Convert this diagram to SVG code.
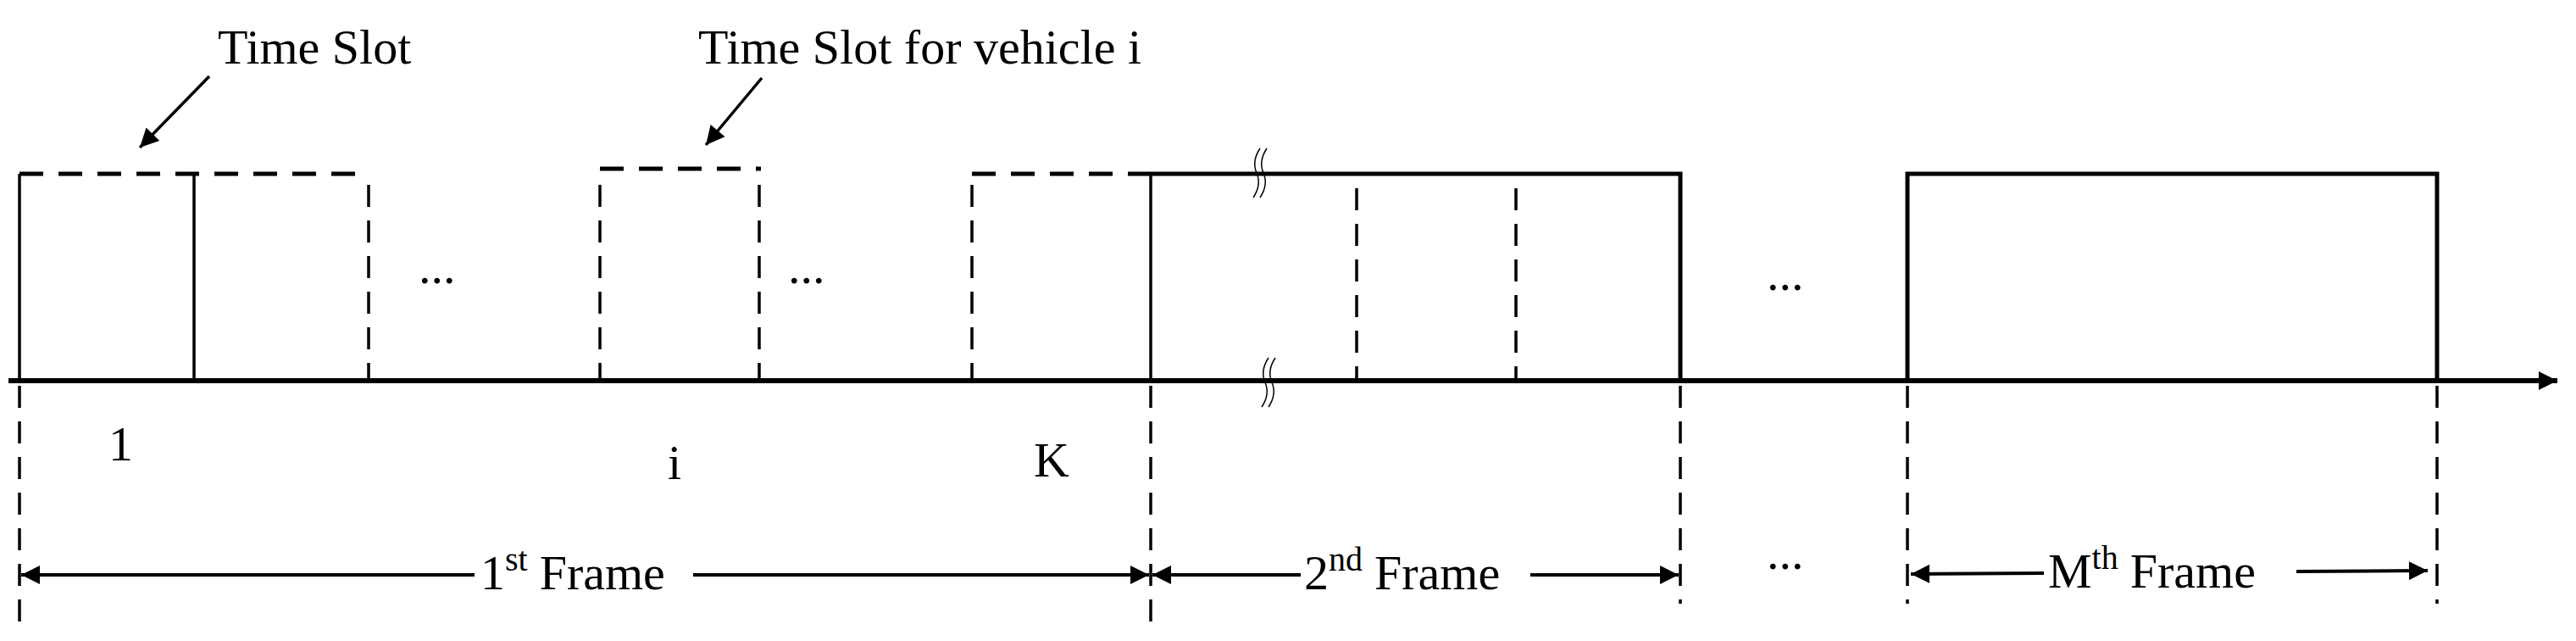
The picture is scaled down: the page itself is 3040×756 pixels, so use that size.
<svg xmlns="http://www.w3.org/2000/svg" width="3040" height="756" viewBox="0 0 3040 756">
<style>
.s{stroke:#000;stroke-width:3.5;fill:none}
.d{stroke:#000;stroke-width:3.5;fill:none;stroke-dasharray:26 16}
.dt{stroke:#000;stroke-width:5;fill:none;stroke-dasharray:28 18}
.t{font-family:"Liberation Serif","Times New Roman",serif;font-size:58px;fill:#000}
.br{stroke:#000;stroke-width:1.5;fill:none}
</style>
<defs>
<marker id="ah" markerWidth="10" markerHeight="10" refX="9" refY="5" orient="auto-start-reverse" markerUnits="userSpaceOnUse" viewBox="0 0 10 10"><path d="M0,0 L10,5 L0,10 z"/></marker>
<marker id="a" viewBox="0 0 10 10" refX="10" refY="5" markerWidth="26" markerHeight="22" orient="auto-start-reverse" markerUnits="userSpaceOnUse"><path d="M0,0 L10,5 L0,10 z" fill="#000"/></marker>
</defs>
<g id="frame1">
<path class="s" d="M23,449 V205 M229,205 V449 M1358,205 V449"/>
<path class="dt" d="M23,205 H435 M1147,205 H1358"/>
<path class="d" d="M435,218 V449 M708,218 V449 M896,218 V449 M1147,218 V449"/>
<path class="dt" d="M708,199 H898"/>
</g>
<g id="frame2">
<path d="M1358,205 H1983 V449" class="s" style="stroke-width:5"/>
<path class="d" d="M1601,222 V449 M1789,222 V449"/>
</g>
<g id="frameM">
<path class="s" d="M2251,449 V205 H2876 V449" style="stroke-width:5"/>
</g>
<g id="breaks">
<path class="br" d="M1487,175 q-10,15 -4,29 q6,14 -4,29 M1495,175 q-10,15 -4,29 q6,14 -4,29"/>
<path class="br" d="M1497,422 q-10,15 -4,29 q6,14 -4,29 M1505,422 q-10,15 -4,29 q6,14 -4,29"/>
</g>
<g id="connectors">
<line x1="10" y1="449" x2="3018" y2="449" stroke="#000" stroke-width="6" marker-end="url(#a)"/>
<line x1="247" y1="90" x2="165" y2="174" class="s" marker-end="url(#a)"/>
<line x1="899" y1="92" x2="833" y2="171" class="s" marker-end="url(#a)"/>
<path class="d" d="M23,455 V735 M1358,455 V735 M1983,455 V712 M2251,455 V712 M2876,455 V712"/>
<line x1="560" y1="678" x2="25" y2="678" stroke="#000" stroke-width="4" marker-end="url(#a)"/>
<line x1="818" y1="678" x2="1356" y2="678" stroke="#000" stroke-width="4" marker-end="url(#a)"/>
<line x1="1535" y1="678" x2="1360" y2="678" stroke="#000" stroke-width="4" marker-end="url(#a)"/>
<line x1="1806" y1="678" x2="1981" y2="678" stroke="#000" stroke-width="4" marker-end="url(#a)"/>
<line x1="2412" y1="676" x2="2255" y2="677" stroke="#000" stroke-width="4" marker-end="url(#a)"/>
<line x1="2710" y1="674" x2="2865" y2="673" stroke="#000" stroke-width="4" marker-end="url(#a)"/>
</g>
<g id="labels">
<text class="t" x="257" y="75">Time Slot</text>
<text class="t" x="824" y="75">Time Slot for vehicle i</text>
<text class="t" x="494" y="334">...</text>
<text class="t" x="930" y="334">...</text>
<text class="t" x="2085" y="342">...</text>
<text class="t" x="2085" y="671">...</text>
<text class="t" x="128" y="543">1</text>
<text class="t" x="788" y="565">i</text>
<text class="t" x="1220" y="562">K</text>
<text class="t" x="567" y="695">1<tspan font-size="40" dy="-22">st</tspan><tspan dy="22" dx="14">Frame</tspan></text>
<text class="t" x="1539" y="695">2<tspan font-size="40" dy="-22">nd</tspan><tspan dy="22" dx="14">Frame</tspan></text>
<text class="t" x="2417" y="693">M<tspan font-size="40" dy="-22">th</tspan><tspan dy="22" dx="14">Frame</tspan></text>
</g>
</svg>
